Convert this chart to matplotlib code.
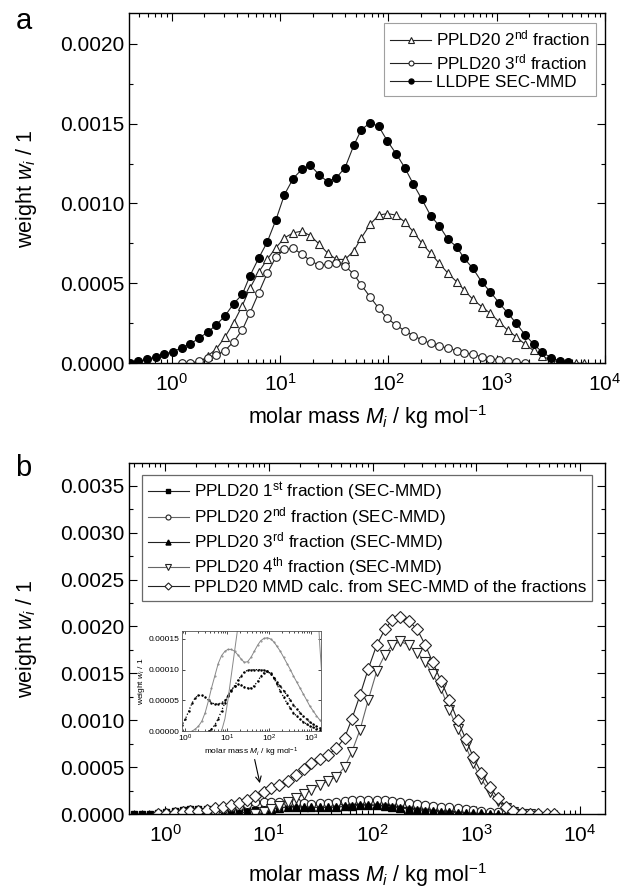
import numpy as np
import matplotlib
matplotlib.use('Agg')
import matplotlib.pyplot as plt
from matplotlib.ticker import FormatStrFormatter, MultipleLocator, LogLocator, NullFormatter

plt.rcParams['font.family'] = ['Liberation Sans', 'DejaVu Sans']
plt.rcParams['mathtext.fontset'] = 'custom'
plt.rcParams['mathtext.rm'] = 'Liberation Sans'
plt.rcParams['mathtext.it'] = 'Liberation Sans:italic'

# ---- panel a : log10 molar mass grid (kg/mol) and weights
lgM_a = [-0.39, -0.31, -0.23, -0.15, -0.07, 0.01, 0.09, 0.17, 0.25, 0.33,
         0.41, 0.49, 0.57, 0.65, 0.72, 0.80, 0.88, 0.96, 1.04, 1.12,
         1.20, 1.28, 1.36, 1.44, 1.52, 1.60, 1.68, 1.75, 1.83, 1.91,
         1.99, 2.07, 2.15, 2.23, 2.31, 2.39, 2.47, 2.55, 2.63, 2.70,
         2.78, 2.86, 2.94, 3.02, 3.10, 3.18, 3.26, 3.34, 3.42, 3.50,
         3.58, 3.66, 3.73, 3.81]

lldpe = [0.000004, 0.0000125, 0.000025, 0.000039, 0.000058, 0.0000725, 0.0000975, 0.00012, 0.000158, 0.000194,
         0.000241, 0.000296, 0.000373, 0.000431, 0.000546, 0.000656, 0.000758, 0.000896, 0.001056, 0.001156,
         0.001214, 0.001238, 0.00118, 0.001135, 0.001162, 0.001225, 0.001364, 0.001462, 0.001504, 0.001483,
         0.001391, 0.001312, 0.001225, 0.001121, 0.001025, 0.000923, 0.00086, 0.000775, 0.000729, 0.000656,
         0.000594, 0.00051, 0.000448, 0.000379, 0.000316, 0.00025, 0.00018, 0.00012, 0.00007, 0.000035,
         0.000015, 0.000005]
lldpe_start = 0

frac2_a = [0.0, 0.000001, 0.000003, 0.000046, 0.000089, 0.000164, 0.000254, 0.00036, 0.000469, 0.000569,
           0.00065, 0.000723, 0.000785, 0.000816, 0.000827, 0.000798, 0.000746, 0.000688, 0.00065, 0.00065,
           0.000704, 0.000785, 0.000869, 0.000927, 0.000937, 0.000927, 0.000885, 0.000823, 0.00075, 0.000688,
           0.000625, 0.000563, 0.00051, 0.000458, 0.0004, 0.000355, 0.000313, 0.00026, 0.000208, 0.000165,
           0.00012, 0.00008, 0.000045, 0.00002, 0.000008, 0.000003, 0.000001, 0.0]
frac2_a_start = 6

frac3_a = [0.0, 0.000002, 0.0000125, 0.000033, 0.00005, 0.000079, 0.000135, 0.000208, 0.000313, 0.000438,
           0.000563, 0.000663, 0.000713, 0.000719, 0.000683, 0.000641, 0.000614, 0.00062, 0.000625, 0.000608,
           0.000558, 0.000489, 0.000416, 0.000344, 0.000281, 0.000239, 0.000204, 0.000173, 0.000146, 0.000125,
           0.000108, 0.000094, 0.000079, 0.000066, 0.000056, 0.000041, 0.000029, 0.000021, 0.000014, 0.000008,
           0.000003]
frac3_a_start = 6

# ---- panel b
lgM_b = [-0.30, -0.22, -0.15, -0.07, 0.01, 0.09, 0.17, 0.24, 0.32, 0.40,
         0.48, 0.56, 0.63, 0.71, 0.79, 0.87, 0.95, 1.02, 1.10, 1.18,
         1.26, 1.34, 1.41, 1.49, 1.57, 1.65, 1.73, 1.80, 1.88, 1.96,
         2.04, 2.12, 2.19, 2.27, 2.35, 2.43, 2.51, 2.58, 2.66, 2.74,
         2.82, 2.90, 2.97, 3.05, 3.13, 3.21, 3.29, 3.36, 3.44, 3.52,
         3.60, 3.68, 3.75]

f1_b = [0.0, 0.000001, 0.000004, 0.00001, 0.00002, 0.000033, 0.000046, 0.000054, 0.000058, 0.000058,
        0.000055, 0.00005, 0.000046, 0.000044, 0.000044, 0.000046, 0.00005, 0.000057, 0.000065, 0.000074,
        0.000083, 0.00009, 0.000096, 0.000099, 0.0001, 0.0001, 0.0001, 0.0001, 0.000099, 0.000097,
        0.000093, 0.000087, 0.00008, 0.000073, 0.000066, 0.000058, 0.00005, 0.000043, 0.000036, 0.00003,
        0.000024, 0.000019, 0.000015, 0.000011, 0.000008, 0.000005, 0.000003, 0.000001]
f1_b_start = 0

f2_b = [0.0, 0.000003, 0.000008, 0.000016, 0.00003, 0.00005, 0.00007, 0.00009, 0.00011, 0.000123,
        0.00013, 0.000133, 0.000133, 0.00013, 0.000124, 0.000117, 0.000112, 0.000113, 0.00012, 0.00013,
        0.00014, 0.000147, 0.000151, 0.000152, 0.00015, 0.000145, 0.000138, 0.00013, 0.00012, 0.00011,
        0.0001, 0.00009, 0.00008, 0.00007, 0.00006, 0.00005, 0.000041, 0.000033, 0.000025, 0.000018,
        0.000012, 0.000007, 0.000004, 0.000002, 0.0]
f2_b_start = 6

f3_b = [0.0, 0.000003, 0.00001, 0.00002, 0.000033, 0.000046, 0.000058, 0.000067, 0.000073, 0.000076,
        0.000075, 0.000072, 0.00007, 0.00007, 0.000074, 0.000081, 0.000089, 0.000095, 0.000097, 0.000094,
        0.000086, 0.000076, 0.000065, 0.000055, 0.000045, 0.000037, 0.00003, 0.000024, 0.000019, 0.000015,
        0.000011, 0.000008, 0.000006, 0.000004, 0.000002, 0.000001]
f3_b_start = 11

f4_b = [0.0, 0.00002, 0.00005, 0.00009, 0.00013, 0.00017, 0.00021, 0.00026, 0.00031, 0.00035,
        0.0004, 0.0005, 0.00066, 0.0009, 0.00122, 0.00152, 0.0017, 0.0018, 0.00184, 0.0018,
        0.00172, 0.00162, 0.00149, 0.00134, 0.00111, 0.00091, 0.00072, 0.00054, 0.00037, 0.00024,
        0.00014, 0.00006, 0.00002, 0.000005, 0.0]
f4_b_start = 15

calc_b = [0.0, 0.000005, 0.00001, 0.000018, 0.000027, 0.000037, 0.000048, 0.00006, 0.000075, 0.000095,
          0.00012, 0.00015, 0.00019, 0.000235, 0.000275, 0.00031, 0.00035, 0.00042, 0.00048, 0.00054,
          0.00059, 0.00063, 0.0007, 0.00081, 0.00101, 0.00127, 0.00155, 0.0018, 0.00197, 0.00207,
          0.0021, 0.00206, 0.00197, 0.0018, 0.00162, 0.00142, 0.00122, 0.001, 0.0008, 0.00061,
          0.00044, 0.00029, 0.00017, 0.00008, 0.00003, 0.00001, 0.000003, 0.0, 0.0, 0.0]
calc_b_start = 3


def xs(grid, start, vals):
  return 10 ** np.array(grid[start:start + len(vals)])


def style_axes(ax, ymajor, yminor, fmt, size):
  ax.set_xscale('log')
  ax.yaxis.set_major_locator(MultipleLocator(ymajor))
  ax.yaxis.set_minor_locator(MultipleLocator(yminor))
  ax.yaxis.set_major_formatter(FormatStrFormatter(fmt))
  ax.xaxis.set_major_locator(LogLocator(base=10, numticks=12))
  ax.xaxis.set_minor_locator(LogLocator(base=10, subs=np.arange(2, 10), numticks=12))
  ax.xaxis.set_minor_formatter(NullFormatter())
  ax.tick_params(which='both', direction='in', top=True, right=True, labelsize=size, width=0.8)
  ax.tick_params(which='major', length=6)
  ax.tick_params(which='minor', length=3)
  ax.tick_params(axis='x', which='major', pad=7)
  for s in ax.spines.values():
    s.set_linewidth(1.0)


fig = plt.figure(figsize=(6.2, 8.88), dpi=100)
lc = '#222222'
gc = '#666666'

# ---------------- panel a
ax1 = fig.add_axes([0.2085, 0.5909, 0.7673, 0.3941])
ax1.plot(xs(lgM_a, frac2_a_start, frac2_a), frac2_a, '-', color=lc, lw=0.8, marker='^', ms=6,
         mfc='white', mec=lc, mew=0.8, label='PPLD20 2$^{\\rm nd}$ fraction')
ax1.plot(xs(lgM_a, frac3_a_start, frac3_a), frac3_a, '-', color=lc, lw=0.8, marker='o', ms=5.5,
         mfc='white', mec=lc, mew=0.8, label='PPLD20 3$^{\\rm rd}$ fraction')
ax1.plot(xs(lgM_a, lldpe_start, lldpe), lldpe, '-', color=lc, lw=0.8, marker='o', ms=5.5,
         mfc='black', mec='black', label='LLDPE SEC-MMD')
style_axes(ax1, 0.0005, 0.00025, '%.4f', 15)
ax1.set_xlim(0.404, 1e4)
ax1.set_ylim(0, 0.00219)
ax1.set_xlabel('molar mass $M_i$ / kg mol$^{-1}$', fontsize=15.5)
ax1.set_ylabel('weight $w_i$ / 1', fontsize=15.5)
ax1.xaxis.set_label_coords(0.5, -0.115)
ax1.yaxis.set_label_coords(-0.19, 0.5)
leg1 = ax1.legend(loc='upper right', bbox_to_anchor=(0.981, 0.973), fontsize=12.3, frameon=True,
                  fancybox=False, edgecolor='#888888', handlelength=2.4, labelspacing=0.2,
                  borderpad=0.35, handletextpad=0.3, markerscale=0.65, borderaxespad=0)
leg1.get_frame().set_linewidth(0.8)
fig.text(0.038, 0.976, 'a', fontsize=21, ha='center', va='center')

# ---------------- panel b
ax2 = fig.add_axes([0.2085, 0.0833, 0.7673, 0.3956])
ax2.plot(xs(lgM_b, f1_b_start, f1_b), f1_b, '-', color=lc, lw=0.8, marker='s', ms=5,
         mfc='black', mec='black', label='PPLD20 1$^{\\rm st}$ fraction (SEC-MMD)')
ax2.plot(xs(lgM_b, f2_b_start, f2_b), f2_b, '-', color=gc, lw=0.8, marker='o', ms=6,
         mfc='white', mec=lc, mew=0.8, label='PPLD20 2$^{\\rm nd}$ fraction (SEC-MMD)')
ax2.plot(xs(lgM_b, f3_b_start, f3_b), f3_b, '-', color=lc, lw=0.8, marker='^', ms=6,
         mfc='black', mec='black', label='PPLD20 3$^{\\rm rd}$ fraction (SEC-MMD)')
ax2.plot(xs(lgM_b, f4_b_start, f4_b), f4_b, '-', color=gc, lw=0.8, marker='v', ms=7,
         mfc='white', mec=lc, mew=0.8, label='PPLD20 4$^{\\rm th}$ fraction (SEC-MMD)')
ax2.plot(xs(lgM_b, calc_b_start, calc_b), calc_b, '-', color=lc, lw=0.8, marker='D', ms=6,
         mfc='white', mec=lc, mew=0.8, label='PPLD20 MMD calc. from SEC-MMD of the fractions')
style_axes(ax2, 0.0005, 0.00025, '%.4f', 15)
ax2.set_xlim(0.45, 1.75e4)
ax2.set_ylim(0, 0.003745)
ax2.set_xlabel('molar mass $M_i$ / kg mol$^{-1}$', fontsize=15.5)
ax2.set_ylabel('weight $w_i$ / 1', fontsize=15.5)
ax2.xaxis.set_label_coords(0.5, -0.135)
ax2.yaxis.set_label_coords(-0.19, 0.5)
leg2 = ax2.legend(loc='upper left', bbox_to_anchor=(0.026, 0.966), fontsize=12.3, frameon=True,
                  fancybox=False, edgecolor='#444444', handlelength=2.4, labelspacing=0.12,
                  borderpad=0.35, handletextpad=0.3, markerscale=0.6, borderaxespad=0)
leg2.get_frame().set_linewidth(0.9)
fig.text(0.038, 0.473, 'b', fontsize=21, ha='center', va='center')

ax2.annotate('', xy=(8.3, 0.0003), xytext=(7.2, 0.00061),
             arrowprops=dict(arrowstyle='->', color='black', lw=0.8))

# ---------------- inset
axi = fig.add_axes([0.293, 0.1768, 0.225, 0.1126])
axi.plot(xs(lgM_b, f1_b_start, f1_b), f1_b, ':', color='black', lw=0.9, marker='.', ms=1.5)
axi.plot(xs(lgM_b, f2_b_start, f2_b), f2_b, '-', color='#888888', lw=0.7, marker='.', ms=1.0)
axi.plot(xs(lgM_b, f3_b_start, f3_b), f3_b, ':', color='black', lw=0.9, marker='.', ms=1.5)
axi.plot(xs(lgM_b, f4_b_start, f4_b), f4_b, '-', color='#888888', lw=0.7)
axi.set_xscale('log')
axi.set_xlim(0.83, 1.75e3)
axi.set_ylim(0, 0.000163)
axi.yaxis.set_major_locator(MultipleLocator(0.00005))
axi.yaxis.set_major_formatter(FormatStrFormatter('%.5f'))
axi.xaxis.set_major_locator(LogLocator(base=10, numticks=8))
axi.xaxis.set_minor_locator(LogLocator(base=10, subs=np.arange(2, 10), numticks=8))
axi.xaxis.set_minor_formatter(NullFormatter())
axi.tick_params(which='both', direction='in', top=True, right=True, labelsize=6, width=0.5, pad=1.5)
axi.tick_params(which='major', length=2.5)
axi.tick_params(which='minor', length=1.2)
for s in axi.spines.values():
  s.set_linewidth(0.6)
  s.set_color('#555555')
axi.set_xlabel('molar mass $M_i$ / kg mol$^{-1}$', fontsize=6, labelpad=1)
axi.set_ylabel('weight $w_i$ / 1', fontsize=6, labelpad=1)

fig.savefig('out.png', dpi=100)
